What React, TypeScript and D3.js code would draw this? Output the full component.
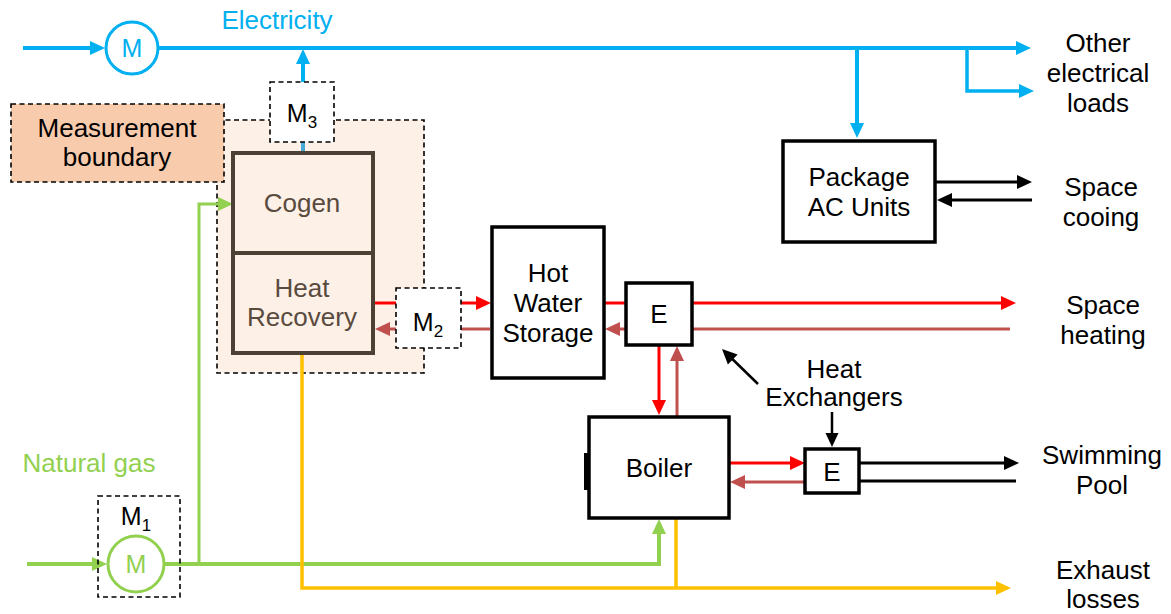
import React from "react";
import * as d3 from "d3";

const FONT = "'Liberation Sans', Arial, Helvetica, sans-serif";
const BLUE = "#00b0f0";
const GREEN = "#92d050";
const RED = "#ff0000";
const RET = "#c0504d";
const YEL = "#ffc000";
const BRN = "#4d4136";

type P = [number, number];

// labels of the diagram
const outputLabels: string[][] = [
  ["Other", "electrical", "loads"],
  ["Space", "cooing"],
  ["Space", "heating"],
  ["Swimming", "Pool"],
  ["Exhaust", "losses"],
];
const unitLabels: string[][] = [
  ["Package", "AC Units"],
  ["Hot", "Water", "Storage"],
  ["E"],
  ["Boiler"],
  ["E"],
];
const cogenLabels: string[][] = [["Cogen"], ["Heat", "Recovery"]];
const meterLabels = ["1", "2", "3"];
const streamLabels = ["Electricity", "Natural gas"];

// layout (pixel positions)
const outputPos: P[] = [[1098, 52], [1101, 196], [1103, 314], [1102, 464], [1103, 579]];
const outputGap = [30, 30, 30, 30, 29];
const unitBoxes = [
  { x: 783, y: 141, w: 152, h: 101, ty: 186 },
  { x: 492, y: 227, w: 112, h: 151, ty: 282 },
  { x: 626, y: 283, w: 66, h: 62, ty: 323 },
  { x: 589, y: 417, w: 140, h: 101, ty: 477 },
  { x: 805, y: 449, w: 54, h: 44, ty: 481 },
];

const line = d3.line();

function Arrow({ pts, color, w = 3, head = [15, 7], noHead = false }: { pts: P[]; color: string; w?: number; head?: number[]; noHead?: boolean }) {
  if (noHead) return <path d={line(pts) || ""} fill="none" stroke={color} strokeWidth={w} />;
  const [x1, y1] = pts[pts.length - 2];
  const [x2, y2] = pts[pts.length - 1];
  const a = Math.atan2(y2 - y1, x2 - x1);
  const [L, H] = head;
  const bx = x2 - L * Math.cos(a);
  const by = y2 - L * Math.sin(a);
  const body: P[] = [...pts.slice(0, -1), [bx + 1 * Math.cos(a), by + 1 * Math.sin(a)]];
  const tri: P[] = [
    [x2, y2],
    [bx - H * Math.sin(a), by + H * Math.cos(a)],
    [bx + H * Math.sin(a), by - H * Math.cos(a)],
  ];
  return (
    <g>
      <path d={line(body) || ""} fill="none" stroke={color} strokeWidth={w} />
      <path d={(line(tri) || "") + "Z"} fill={color} stroke="none" />
    </g>
  );
}

function Lines({ lines, x, y, color = "#000", size = 26, gap = 30 }: { lines: string[]; x: number; y: number; color?: string; size?: number; gap?: number }) {
  return (
    <text x={x} y={y} fill={color} fontSize={size} textAnchor="middle" fontFamily={FONT}>
      {lines.map((l, i) => (
        <tspan key={i} x={x} dy={i === 0 ? 0 : gap}>{l}</tspan>
      ))}
    </text>
  );
}

function Meter({ x, y, sub }: { x: number; y: number; sub: string }) {
  return (
    <text x={x} y={y} fontSize={25} textAnchor="middle" fontFamily={FONT} fill="#000">
      M<tspan fontSize={17} dy={6}>{sub}</tspan>
    </text>
  );
}

const dash = { stroke: "#000", strokeWidth: 1.6, strokeDasharray: "5 3.5" };

export default function App() {
  return (
    <svg width={1171} height={614} style={{ position: "fixed", left: 0, top: 0, background: "#fff" }}>
      {/* measurement boundary */}
      <rect x={217} y={120} width={207} height={253} fill="#fdf0e7" {...dash} />
      <rect x={11} y={104} width={213} height={78} fill="#f8cbad" {...dash} />
      <Lines lines={["Measurement", "boundary"]} x={117} y={137} gap={29} />

      {/* electricity */}
      <Arrow pts={[[23, 48], [105, 48]]} color={BLUE} w={4} />
      <circle cx={132} cy={48} r={26} fill="#fff" stroke={BLUE} strokeWidth={3} />
      <text x={132} y={57} fontSize={25} textAnchor="middle" fontFamily={FONT} fill={BLUE}>M</text>
      <Arrow pts={[[159, 48], [1031, 48]]} color={BLUE} w={4} />
      <Arrow pts={[[857, 48], [857, 138]]} color={BLUE} w={4} />
      <Arrow pts={[[967, 48], [967, 91], [1034, 91]]} color={BLUE} w={3.5} />
      <text x={277} y={29} fontSize={26} textAnchor="middle" fontFamily={FONT} fill={BLUE}>{streamLabels[0]}</text>
      <Arrow pts={[[303, 83], [303, 49]]} color={BLUE} w={4} head={[15, 7]} />
      <Arrow pts={[[303, 142], [303, 153]]} color="#45aad8" w={4} noHead />

      {/* natural gas */}
      <Arrow pts={[[27, 564], [107, 564]]} color={GREEN} w={4} />
      <Arrow pts={[[164, 564], [659, 564], [659, 519]]} color={GREEN} w={4} />
      <Arrow pts={[[199, 564], [199, 204], [233, 204]]} color={GREEN} w={3} />
      <circle cx={136} cy={564} r={28} fill="#fff" stroke={GREEN} strokeWidth={3} />
      <text x={136} y={573} fontSize={25} textAnchor="middle" fontFamily={FONT} fill={GREEN}>M</text>
      <text x={89} y={472} fontSize={26} textAnchor="middle" fontFamily={FONT} fill={GREEN}>{streamLabels[1]}</text>
      <rect x={98} y={496} width={82} height={101} fill="none" {...dash} />
      <Meter x={136} y={525} sub={meterLabels[0]} />

      {/* exhaust */}
      <Arrow pts={[[302, 353], [302, 588], [1011, 588]]} color={YEL} w={3.5} />
      <Arrow pts={[[676, 518], [676, 588]]} color={YEL} w={3.5} noHead />

      {/* hot water flows */}
      <Arrow pts={[[373, 303], [396, 303]]} color={RED} w={3} noHead />
      <Arrow pts={[[461, 303], [491, 303]]} color={RED} w={3} />
      <Arrow pts={[[604, 303], [626, 303]]} color={RED} w={3} noHead />
      <Arrow pts={[[692, 303], [1016, 303]]} color={RED} w={3} />
      <Arrow pts={[[659, 345], [659, 415]]} color={RED} w={3} />
      <Arrow pts={[[729, 463], [805, 463]]} color={RED} w={3} />
      <Arrow pts={[[490, 329], [461, 329]]} color={RET} w={3} noHead />
      <Arrow pts={[[396, 329], [375, 329]]} color={RET} w={3} />
      <Arrow pts={[[1010, 329], [692, 329]]} color={RET} w={3} noHead />
      <Arrow pts={[[626, 329], [605, 329]]} color={RET} w={3} />
      <Arrow pts={[[677, 417], [677, 346]]} color={RET} w={3} />
      <Arrow pts={[[805, 482], [730, 482]]} color={RET} w={3} />

      {/* cooling and pool */}
      <Arrow pts={[[935, 182], [1032, 182]]} color="#000" w={3} />
      <Arrow pts={[[1032, 200], [937, 200]]} color="#000" w={3} />
      <Arrow pts={[[859, 463], [1019, 463]]} color="#000" w={3} />
      <Arrow pts={[[859, 481], [1016, 481]]} color="#000" w={3} noHead />
      <Arrow pts={[[832, 412], [832, 447]]} color="#000" w={2.5} head={[14, 6.5]} />
      <Arrow pts={[[758, 384], [722, 349]]} color="#000" w={2.5} head={[15, 7]} />
      <Lines lines={["Heat", "Exchangers"]} x={834} y={378} gap={28} />

      {/* cogen */}
      <rect x={233} y={153} width={140} height={200} fill="#fdf0e7" stroke={BRN} strokeWidth={4} />
      <path d={line([[233, 253], [373, 253]]) || ""} stroke={BRN} strokeWidth={4} />
      <Lines lines={cogenLabels[0]} x={302} y={212} color="#594a3e" />
      <Lines lines={cogenLabels[1]} x={302} y={297} color="#594a3e" gap={29} />

      {/* meters M2, M3 */}
      <rect x={396} y={288} width={65} height={60} fill="#fff" {...dash} />
      <Meter x={428} y={331} sub={meterLabels[1]} />
      <rect x={270} y={82} width={64} height={60} fill="#fff" {...dash} />
      <Meter x={302} y={122} sub={meterLabels[2]} />

      {/* units */}
      {unitBoxes.map((b, i) => (
        <g key={i}>
          <rect x={b.x} y={b.y} width={b.w} height={b.h} fill="#fff" stroke="#000" strokeWidth={3.5} />
          <Lines lines={unitLabels[i]} x={b.x + b.w / 2} y={b.ty} />
        </g>
      ))}
      <rect x={584} y={453} width={5} height={37} fill="#000" />

      {/* outputs */}
      {outputLabels.map((l, i) => (
        <Lines key={i} lines={l} x={outputPos[i][0]} y={outputPos[i][1]} gap={outputGap[i]} />
      ))}
    </svg>
  );
}
